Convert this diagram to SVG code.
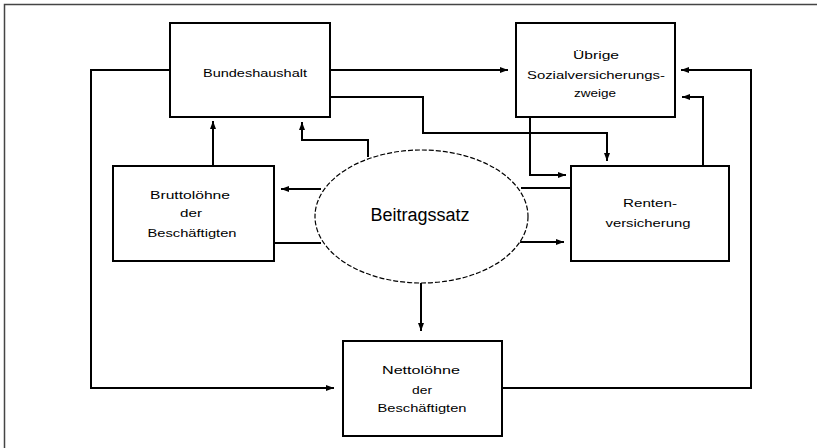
<svg xmlns="http://www.w3.org/2000/svg" width="817" height="448" viewBox="0 0 817 448">
<defs>
<style>
.box{fill:#fff;stroke:#000;stroke-width:2}
.lbl{font-family:"Liberation Sans",Arial,sans-serif;font-size:11px;fill:#000;text-anchor:middle}
.big{font-family:"Liberation Sans",Arial,sans-serif;font-size:18px;fill:#000;text-anchor:middle}
.con{fill:none;stroke:#000;stroke-width:2}
</style>
<marker id="ah" markerUnits="userSpaceOnUse" markerWidth="10" markerHeight="10" refX="8" refY="4" orient="auto">
<path d="M0,1 L8,4 L0,7 Z" fill="#000"/>
</marker>
</defs>
<rect width="817" height="448" fill="#fff"/>
<path d="M4.5,448 V4.5 H817" fill="none" stroke="#444" stroke-width="1.5"/>

<g id="connectors">
<path class="con" d="M330,70 H508" marker-end="url(#ah)"/>
<path class="con" d="M330,97 H423 V133 H607 V161" marker-end="url(#ah)"/>
<path class="con" d="M530,117 V175 H566" marker-end="url(#ah)"/>
<path class="con" d="M703,166 V97 H682" marker-end="url(#ah)"/>
<path class="con" d="M502,388 H751 V70 H681" marker-end="url(#ah)"/>
<path class="con" d="M170,70 H91 V388 H334" marker-end="url(#ah)"/>
<path class="con" d="M213,166 V121" marker-end="url(#ah)"/>
<path class="con" d="M368,157 V140 H302 V122" marker-end="url(#ah)"/>
<path class="con" d="M321,189 H281" marker-end="url(#ah)"/>
<path class="con" d="M274,243 H321"/>
<path class="con" d="M521,188 H571"/>
<path class="con" d="M520,242 H564" marker-end="url(#ah)"/>
<path class="con" d="M421,283 V331" marker-end="url(#ah)"/>
</g>

<g id="bundeshaushalt">
<rect class="box" x="170" y="23" width="160" height="94"/>
<text class="lbl" x="255" y="77" textLength="104" lengthAdjust="spacingAndGlyphs">Bundeshaushalt</text>
</g>

<g id="uebrige">
<rect class="box" x="516" y="23" width="159" height="94"/>
<text class="lbl" x="596" y="59" textLength="46" lengthAdjust="spacingAndGlyphs">Übrige</text>
<text class="lbl" x="596" y="79" textLength="138" lengthAdjust="spacingAndGlyphs">Sozialversicherungs-</text>
<text class="lbl" x="595" y="97" textLength="42" lengthAdjust="spacingAndGlyphs">zweige</text>
</g>

<g id="brutto">
<rect class="box" x="113" y="166" width="161" height="95"/>
<text class="lbl" x="190" y="199" textLength="80" lengthAdjust="spacingAndGlyphs">Bruttolöhne</text>
<text class="lbl" x="191" y="217" textLength="22" lengthAdjust="spacingAndGlyphs">der</text>
<text class="lbl" x="192" y="237" textLength="89" lengthAdjust="spacingAndGlyphs">Beschäftigten</text>
</g>

<g id="renten">
<rect class="box" x="571" y="166" width="158" height="95"/>
<text class="lbl" x="650" y="207" textLength="54" lengthAdjust="spacingAndGlyphs">Renten-</text>
<text class="lbl" x="648" y="227" textLength="85" lengthAdjust="spacingAndGlyphs">versicherung</text>
</g>

<g id="netto">
<rect class="box" x="343" y="341" width="159" height="95"/>
<text class="lbl" x="421" y="374" textLength="78" lengthAdjust="spacingAndGlyphs">Nettolöhne</text>
<text class="lbl" x="422" y="394" textLength="20" lengthAdjust="spacingAndGlyphs">der</text>
<text class="lbl" x="422" y="412" textLength="89" lengthAdjust="spacingAndGlyphs">Beschäftigten</text>
</g>

<g id="beitragssatz">
<ellipse cx="421.5" cy="216.5" rx="106.5" ry="66.5" fill="#fff" stroke="#000" stroke-width="1.2" stroke-dasharray="5,2"/>
<text class="big" x="420" y="221">Beitragssatz</text>
</g>
</svg>
